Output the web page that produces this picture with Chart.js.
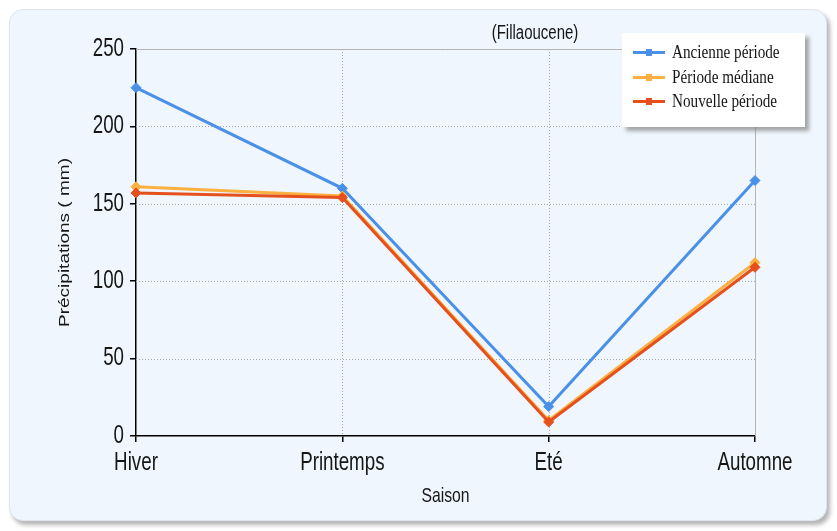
<!DOCTYPE html>
<html>
<head>
<meta charset="utf-8">
<script src="https://cdn.jsdelivr.net/npm/chart.js@4.4.1/dist/chart.umd.min.js"></script>
<style>
  html, body { margin: 0; padding: 0; background: #ffffff; }
  body { width: 837px; height: 531px; position: relative; overflow: hidden; }
  #panel {
    position: absolute; left: 9px; top: 9px; width: 816px; height: 510px;
    background: #eff6fd; border: 1px solid #dfe5ea; border-radius: 14px;
    box-shadow: 3px 4px 4px rgba(120,120,120,0.55);
  }
  #wrap { position: absolute; left: 0; top: 0; width: 837px; height: 531px; }
  #legend {
    position: absolute; left: 622px; top: 33px; width: 183px; height: 94px;
    background: #ffffff; box-shadow: 4px 4px 4px rgba(110,110,110,0.6);
    font-family: "Liberation Serif", "DejaVu Serif", serif; font-size: 19px; color: #151515;
  }
  .item { position: absolute; left: 11px; height: 20px; line-height: 20px; white-space: nowrap; }
  .swatch { position: absolute; left: 0; top: 9px; width: 32px; height: 3px; }
  .swatch i { position: absolute; left: 13px; top: -2px; width: 6px; height: 7px; }
  .item span { position: absolute; left: 39px; top: 0; transform: scaleX(0.8); transform-origin: 0 50%; }
</style>
</head>
<body>
<div id="panel"></div>
<div id="wrap"><canvas id="c" width="837" height="531"></canvas></div>
<div id="legend"></div>
<script>
// Seasonal precipitation (mm) at Fillaoucene for three periods
const seasons = ["Hiver", "Printemps", "Eté", "Automne"];
const ancienne = [225, 160, 19, 165];
const mediane = [161, 155, 10, 112];
const nouvelle = [157, 154, 9, 109];
const yTicks = [0, 50, 100, 150, 200, 250];

const seriesNames = ["Ancienne période", "Période médiane", "Nouvelle période"];
const seriesColors = ["#4a90e8", "#fbb040", "#e5501c"];
const seriesData = [ancienne, mediane, nouvelle];

const SANS = "'Liberation Sans', Arial, sans-serif";
const NARROW = 0.75; // horizontal squeeze for the narrow label face

// draws text compressed horizontally around (x, y)
function narrowText(ctx, text, x, y, size, align, rotate) {
  ctx.save();
  ctx.translate(x, y);
  if (rotate) ctx.rotate(-Math.PI / 2);
  if (rotate) ctx.scale(1, NARROW * 1.04); else ctx.scale(NARROW, 1);
  ctx.font = size + 'px ' + SANS;
  ctx.fillStyle = '#161616';
  ctx.textAlign = align;
  ctx.textBaseline = 'middle';
  ctx.fillText(text, 0, 0);
  ctx.restore();
}

// dotted grid lines, solid top and right edges, axis labels and chart title
const decor = {
  id: 'decor',
  beforeDatasetsDraw(chart) {
    const { ctx, chartArea: a, scales: { x, y } } = chart;
    ctx.save();
    ctx.lineWidth = 1;
    ctx.strokeStyle = '#a8a8a8';
    ctx.setLineDash([1, 2]);
    yTicks.forEach(v => {
      if (v === 0 || v === 250) return;
      const py = Math.round(y.getPixelForValue(v)) + 0.5;
      ctx.beginPath(); ctx.moveTo(a.left, py); ctx.lineTo(a.right, py); ctx.stroke();
    });
    seasons.forEach((s, i) => {
      if (i === 0 || i === seasons.length - 1) return;
      const px = Math.round(x.getPixelForValue(i)) + 0.5;
      ctx.beginPath(); ctx.moveTo(px, a.top); ctx.lineTo(px, a.bottom); ctx.stroke();
    });
    ctx.setLineDash([]);
    ctx.strokeStyle = '#b4b4b4';
    const topY = Math.round(y.getPixelForValue(250)) + 0.5;
    ctx.beginPath(); ctx.moveTo(a.left, topY); ctx.lineTo(a.right, topY); ctx.stroke();
    const rx = Math.round(x.getPixelForValue(seasons.length - 1)) + 0.5;
    ctx.beginPath(); ctx.moveTo(rx, a.top); ctx.lineTo(rx, a.bottom); ctx.stroke();
    ctx.restore();
  },
  afterDraw(chart) {
    const { ctx, chartArea: a, scales: { x, y } } = chart;
    yTicks.forEach(v => narrowText(ctx, String(v), a.left - 12, y.getPixelForValue(v), 25, 'right'));
    seasons.forEach((s, i) => narrowText(ctx, s, x.getPixelForValue(i), a.bottom + 27, 25, 'center'));
    narrowText(ctx, 'Saison', (a.left + a.right) / 2, a.bottom + 60, 21, 'center');
    narrowText(ctx, 'Précipitations ( mm)', 65, (a.top + a.bottom) / 2, 19, 'center', true);
    narrowText(ctx, '(Fillaoucene)', 535, 33, 20, 'center');
  }
};

new Chart(document.getElementById('c'), {
  type: 'line',
  data: {
    labels: seasons,
    datasets: seriesData.map((d, i) => ({
      label: seriesNames[i],
      data: d,
      borderColor: seriesColors[i],
      backgroundColor: seriesColors[i],
      borderWidth: 3,
      pointStyle: 'rectRot',
      pointRadius: 5,
      pointBorderWidth: 1,
      tension: 0,
      order: 3 - i
    }))
  },
  options: {
    responsive: false,
    animation: false,
    layout: { padding: { left: 0, right: 82, top: 49, bottom: 0 } },
    plugins: { legend: { display: false }, tooltip: { enabled: false }, title: { display: false } },
    scales: {
      x: {
        type: 'category',
        offset: false,
        grid: { display: true, drawOnChartArea: false, tickLength: 6, color: '#000', lineWidth: 1.5 },
        border: { color: '#000', width: 1.5 },
        ticks: { display: false },
        afterFit(s) { s.height = 95; }
      },
      y: {
        min: 0, max: 250,
        afterBuildTicks(s) { s.ticks = yTicks.map(v => ({ value: v })); },
        grid: { display: true, drawOnChartArea: false, tickLength: 6, color: '#000', lineWidth: 1.5 },
        border: { color: '#000', width: 1.5 },
        ticks: { display: false },
        afterFit(s) { s.width = 136; }
      }
    }
  },
  plugins: [decor]
});

// legend box
const legend = document.getElementById('legend');
const rowTops = [9, 34, 58];
seriesNames.forEach((name, i) => {
  const row = document.createElement('div');
  row.className = 'item';
  row.style.top = rowTops[i] + 'px';
  row.innerHTML = '<div class="swatch" style="background:' + seriesColors[i] + '"><i style="background:' +
    seriesColors[i] + '"></i></div><span>' + name + '</span>';
  legend.appendChild(row);
});
</script>
</body>
</html>
